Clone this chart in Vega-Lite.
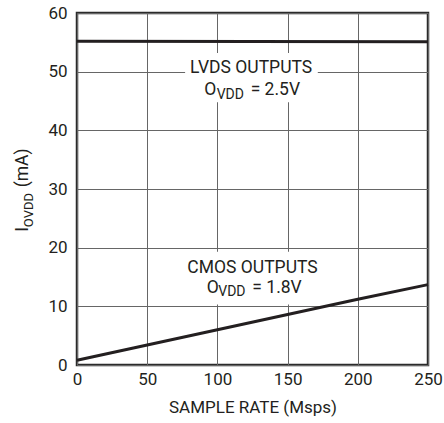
{
  "$schema": "https://vega.github.io/schema/vega-lite/v6.json",
  "width": 351,
  "height": 352,
  "autosize": {"type": "none"},
  "padding": {"left": 77, "top": 13, "right": 16, "bottom": 58},
  "background": "white",
  "config": {
    "font": "Roboto",
    "view": {"stroke": "#2b2b2b", "strokeWidth": 2.5},
    "axis": {
      "domain": false,
      "ticks": false,
      "tickSize": 0,
      "grid": true,
      "gridColor": "#666666",
      "gridWidth": 1,
      "gridOpacity": 1,
      "labelFont": "Roboto",
      "labelFontSize": 17,
      "labelColor": "#231f20",
      "labelFlush": false,
      "labelOverlap": false,
      "titleFont": "Roboto",
      "titleFontSize": 17,
      "titleFontWeight": "normal",
      "titleColor": "#231f20"
    },
    "text": {"font": "Roboto", "color": "#231f20", "baseline": "alphabetic"}
  },
  "datasets": {
    "curves": [
      {"series": "LVDS", "rate": 0, "current": 55.2},
      {"series": "LVDS", "rate": 250, "current": 55.1},
      {"series": "CMOS", "rate": 0, "current": 0.8},
      {"series": "CMOS", "rate": 50, "current": 3.4},
      {"series": "CMOS", "rate": 100, "current": 6.0},
      {"series": "CMOS", "rate": 150, "current": 8.6},
      {"series": "CMOS", "rate": 200, "current": 11.2},
      {"series": "CMOS", "rate": 250, "current": 13.7}
    ],
    "boxes": [
      {"x": 77, "x2": 171.5, "y": 53.2, "y2": 44.8},
      {"x": 79, "x2": 171, "y": 19.3, "y2": 10.3}
    ],
    "labels": [
      {"text": "LVDS OUTPUTS", "x": 124, "y": 49.8},
      {"text": "CMOS OUTPUTS", "x": 125, "y": 15.6}
    ],
    "mains": [
      {"text": "O", "x": 90.7, "y": 46.0},
      {"text": "= 2.5V", "x": 123.7, "y": 46.0},
      {"text": "O", "x": 92.4, "y": 12.2},
      {"text": "= 1.8V", "x": 124.9, "y": 12.2}
    ],
    "subs": [
      {"text": "VDD", "x": 99.5, "y": 45.4},
      {"text": "VDD", "x": 100.6, "y": 11.7}
    ],
    "ytitle": [
      {"text": "I", "x": -35.1, "y": 22.7},
      {"text": "(mA)", "x": -35.1, "y": 30.3}
    ],
    "ytitlesub": [
      {"text": "OVDD", "x": -31.1, "y": 23.5}
    ]
  },
  "layer": [
    {
      "data": {"name": "boxes"},
      "mark": {"type": "rect", "fill": "white"},
      "encoding": {
        "x": {"field": "x", "type": "quantitative", "scale": {"domain": [0, 250], "nice": false},
              "axis": {"values": [0, 50, 100, 150, 200, 250], "labelPadding": 6, "title": "SAMPLE RATE (Msps)", "titlePadding": 12}},
        "x2": {"field": "x2"},
        "y": {"field": "y", "type": "quantitative", "scale": {"domain": [0, 60], "nice": false},
              "axis": {"values": [0, 10, 20, 30, 40, 50, 60], "labelPadding": 10, "title": null}},
        "y2": {"field": "y2"}
      }
    },
    {
      "data": {"name": "curves"},
      "mark": {"type": "line", "color": "#231f20", "strokeWidth": 3},
      "encoding": {
        "x": {"field": "rate", "type": "quantitative"},
        "y": {"field": "current", "type": "quantitative"},
        "detail": {"field": "series"}
      }
    },
    {
      "data": {"name": "labels"},
      "mark": {"type": "text", "fontSize": 17.5, "align": "center"},
      "encoding": {
        "x": {"field": "x", "type": "quantitative"},
        "y": {"field": "y", "type": "quantitative"},
        "text": {"field": "text"}
      }
    },
    {
      "data": {"name": "mains"},
      "mark": {"type": "text", "fontSize": 17.5, "align": "left"},
      "encoding": {
        "x": {"field": "x", "type": "quantitative"},
        "y": {"field": "y", "type": "quantitative"},
        "text": {"field": "text"}
      }
    },
    {
      "data": {"name": "subs"},
      "mark": {"type": "text", "fontSize": 14, "align": "left"},
      "encoding": {
        "x": {"field": "x", "type": "quantitative"},
        "y": {"field": "y", "type": "quantitative"},
        "text": {"field": "text"}
      }
    },
    {
      "data": {"name": "ytitle"},
      "mark": {"type": "text", "fontSize": 17.5, "align": "left", "angle": 270},
      "encoding": {
        "x": {"field": "x", "type": "quantitative"},
        "y": {"field": "y", "type": "quantitative"},
        "text": {"field": "text"}
      }
    },
    {
      "data": {"name": "ytitlesub"},
      "mark": {"type": "text", "fontSize": 13, "align": "left", "angle": 270},
      "encoding": {
        "x": {"field": "x", "type": "quantitative"},
        "y": {"field": "y", "type": "quantitative"},
        "text": {"field": "text"}
      }
    }
  ]
}
